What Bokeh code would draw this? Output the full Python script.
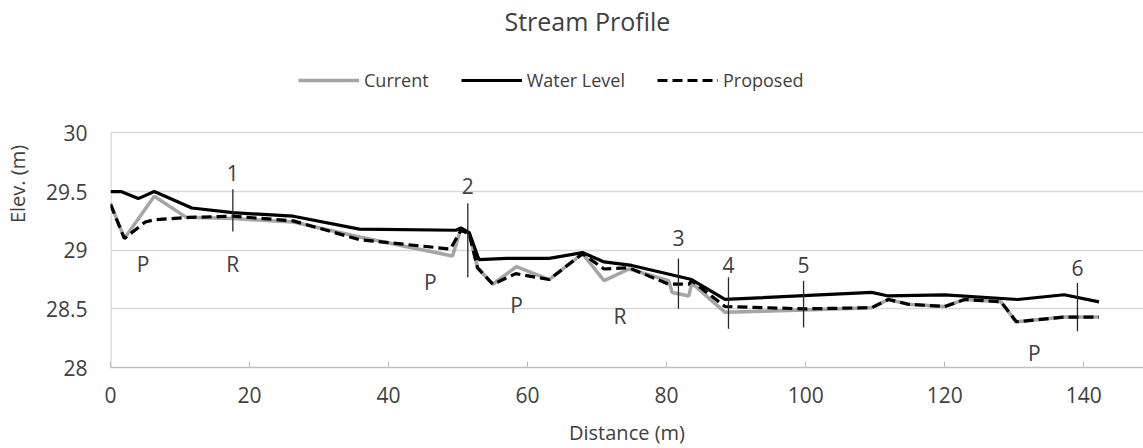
from bokeh.plotting import figure
from bokeh.models import Legend, LegendItem, FixedTicker, Range1d, Label
from bokeh.core.properties import value
from bokeh.embed import file_html
from bokeh.resources import INLINE

# ---- data ----
dist_current = [0, 2.0, 6.3, 10.9, 17.6, 26.3, 36.0, 49.2, 50.4, 51.6, 52.8, 55.0, 58.4, 63.1,
                67.9, 71.0, 74.6, 80.3, 80.8, 83.2, 83.6, 88.4, 99.9, 109.5, 111.9, 114.7,
                120.0, 122.9, 128.1, 130.3, 137.2, 142.2]
elev_current = [29.40, 29.10, 29.46, 29.28, 29.27, 29.24, 29.11, 28.95, 29.18, 29.14, 28.85, 28.71,
                28.86, 28.75, 28.97, 28.74, 28.84, 28.74, 28.64, 28.61, 28.72, 28.47, 28.49, 28.51,
                28.58, 28.54, 28.52, 28.58, 28.56, 28.39, 28.43, 28.43]

dist_water = [0, 1.5, 4.0, 6.3, 11.7, 17.6, 26.3, 35.8, 49.7, 50.4, 51.6, 53.0, 57.0, 63.1, 67.9,
              71.0, 75.0, 83.6, 88.4, 109.5, 111.9, 120.0, 130.5, 137.2, 142.2]
elev_water = [29.50, 29.50, 29.44, 29.50, 29.36, 29.32, 29.29, 29.18, 29.17, 29.19, 29.15, 28.92,
              28.93, 28.93, 28.98, 28.90, 28.87, 28.75, 28.58, 28.64, 28.61, 28.62, 28.58, 28.62,
              28.56]

dist_proposed = [0, 2.0, 3.5, 5.0, 6.3, 11.4, 17.6, 26.3, 35.8, 48.9, 50.4, 51.6, 52.8, 55.0, 58.3,
                 63.1, 67.9, 71.0, 74.6, 80.3, 83.2, 83.6, 88.4, 99.9, 109.5, 111.9, 114.7, 120.0,
                 122.9, 128.1, 130.3, 137.2, 142.2]
elev_proposed = [29.39, 29.10, 29.17, 29.24, 29.26, 29.28, 29.29, 29.25, 29.09, 29.01, 29.17, 29.14,
                 28.85, 28.71, 28.80, 28.75, 28.97, 28.84, 28.85, 28.71, 28.71, 28.74, 28.52, 28.50,
                 28.51, 28.58, 28.54, 28.52, 28.58, 28.56, 28.39, 28.43, 28.43]

marker_x = [17.6, 51.4, 81.7, 88.9, 99.7, 139.1]
marker_top = [29.52, 29.40, 28.93, 28.77, 28.74, 28.72]
marker_bottom = [29.16, 28.77, 28.50, 28.33, 28.34, 28.31]
marker_labels = ["1", "2", "3", "4", "5", "6"]
marker_label_y = [29.66, 29.55, 29.10, 28.87, 28.87, 28.85]

note_x = [4.7, 17.6, 46.0, 58.4, 73.3, 132.9]
note_y = [28.88, 28.88, 28.73, 28.53, 28.44, 28.12]
note_text = ["P", "R", "P", "P", "R", "P"]

x_ticks = [0, 20, 40, 60, 80, 100, 120, 140]
y_ticks = [28, 28.5, 29, 29.5, 30]
y_tick_labels = ["28", "28.5", "29", "29.5", "30"]
y_axis_span = [28, 30]

title_text = "Stream Profile"

FONT = "Open Sans"
TXT = "#404040"

p = figure(width=1143, height=448, output_backend="svg", toolbar_location=None, title=None,
           x_range=Range1d(0, 148.6), y_range=Range1d(28, 31.129),
           min_border_left=107, min_border_right=0, min_border_top=0, min_border_bottom=81)
p.outline_line_color = None

# chart title, centred above the plot area
p.add_layout(Label(x=68.6, y=30.958, text=title_text, text_align="center",
                   text_baseline="middle", text_font=FONT, text_font_size="25px",
                   text_color=TXT))

p.xgrid.visible = False
p.ygrid.grid_line_color = "#d9d9d9"
p.ygrid.grid_line_width = 1.3

p.xaxis.ticker = FixedTicker(ticks=x_ticks)
p.xaxis.major_tick_in = 6
p.xaxis.major_tick_out = 0
p.xaxis.minor_tick_line_color = None
p.xaxis.axis_line_color = "#bfbfbf"
p.xaxis.major_tick_line_color = "#bfbfbf"
p.xaxis.axis_line_width = 1.3
p.xaxis.major_label_text_font = FONT
p.xaxis.major_label_text_font_size = "21px"
p.xaxis.major_label_text_color = TXT
p.xaxis.major_label_standoff = 19
p.xaxis.axis_label = "Distance (m)"
p.xaxis.axis_label_text_font = FONT
p.xaxis.axis_label_text_font_size = "20px"
p.xaxis.axis_label_text_font_style = "normal"
p.xaxis.axis_label_text_color = TXT
p.xaxis.axis_label_standoff = 13

p.yaxis.ticker = FixedTicker(ticks=y_ticks)
p.yaxis.major_label_overrides = {t: s for t, s in zip(y_ticks, y_tick_labels)}
p.yaxis.major_tick_in = 0
p.yaxis.major_tick_out = 0
p.yaxis.minor_tick_line_color = None
p.yaxis.axis_line_color = None
p.yaxis.major_label_text_font = FONT
p.yaxis.major_label_text_font_size = "21px"
p.yaxis.major_label_text_color = TXT
p.yaxis.major_label_standoff = 23
p.yaxis.axis_label = "Elev. (m)"
p.yaxis.axis_label_text_font = FONT
p.yaxis.axis_label_text_font_size = "20px"
p.yaxis.axis_label_text_font_style = "normal"
p.yaxis.axis_label_text_color = TXT
p.yaxis.axis_label_standoff = 12

# y axis line only over the labelled span
p.segment(x0=[0], y0=[y_axis_span[0]], x1=[0], y1=[y_axis_span[1]],
          line_color="#d9d9d9", line_width=2.6)

r_cur = p.line(dist_current, elev_current, line_color="#a5a5a5", line_width=3.5)
r_wat = p.line(dist_water, elev_water, line_color="#000000", line_width=3.2)
r_pro = p.line(dist_proposed, elev_proposed, line_color="#000000", line_width=3.2, line_dash="10 5")

p.segment(x0=marker_x, y0=marker_bottom, x1=marker_x, y1=marker_top,
          line_color="#262626", line_width=1.3)
p.text(x=marker_x, y=marker_label_y, text=marker_labels, text_align="center",
       text_baseline="middle", text_font=value(FONT), text_font_size="21px", text_color=TXT)
p.text(x=note_x, y=note_y, text=note_text, text_align="center",
       text_baseline="middle", text_font=value(FONT), text_font_size="21px", text_color=TXT)

legend = Legend(items=[LegendItem(label="Current", renderers=[r_cur]),
                       LegendItem(label="Water Level", renderers=[r_wat]),
                       LegendItem(label="Proposed", renderers=[r_pro])],
                orientation="horizontal", location=(188, 275),
                glyph_width=61, glyph_height=20, label_standoff=5, spacing=32,
                padding=0, margin=0, border_line_color=None, background_fill_alpha=0,
                label_text_font=FONT, label_text_font_size="18px", label_text_color=TXT)
p.add_layout(legend)

open("out.html", "w").write(file_html(p, INLINE))
